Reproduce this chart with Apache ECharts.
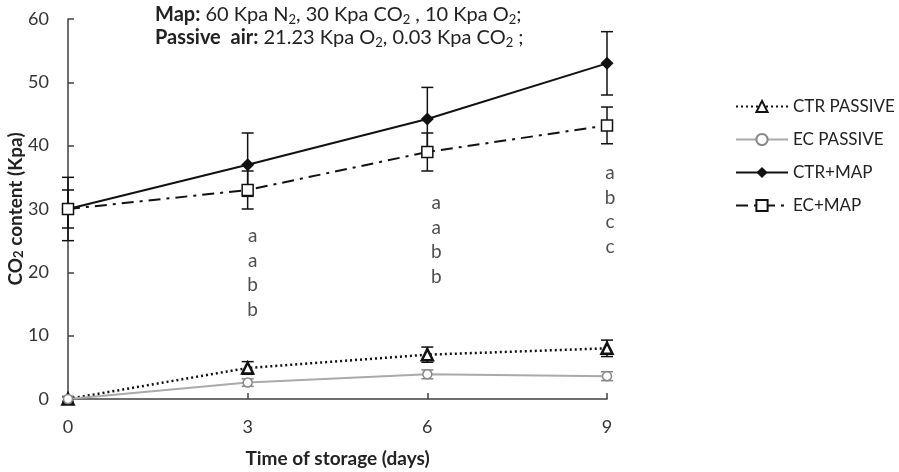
<!DOCTYPE html>
<html>
<head>
<meta charset="utf-8">
<script src="https://cdn.jsdelivr.net/npm/echarts@6/dist/echarts.min.js"></script>
<style>
  html, body { margin: 0; padding: 0; background: #fff; }
  #chart { width: 899px; height: 472px; }
</style>
</head>
<body>
<div id="chart"></div>
<script>
  // days of storage
  const days = [0, 3, 6, 9];

  // CO2 content (Kpa) and error half-widths
  const ctrPassive = [0, 4.9, 7, 8];
  const ctrPassiveErr = [0.4, 1, 1.2, 1.3];
  const ecPassive = [0, 2.6, 3.9, 3.6];
  const ecPassiveErr = [0.3, 0.6, 0.7, 0.7];
  const ctrMap = [30, 37, 44.2, 53];
  const ctrMapErr = [5, 5, 5, 5];
  const ecMap = [30, 33, 39, 43.2];
  const ecMapErr = [3, 3, 3, 2.9];

  // significance letters per day column
  const letterDays = [3, 6, 9];
  const letterCenters = [19.9, 25.1, 29.9];
  const letterTexts = ['a\na\nb\nb', 'a\na\nb\nb', 'a\nb\nc\nc'];

  const font = 'Lato, "Open Sans", sans-serif';
  const axisColor = '#404040';

  const chart = echarts.init(document.getElementById('chart'));

  // error bars drawn as custom series
  function errorSeries(vals, errs, color, width) {
    return {
      type: 'custom',
      z: 1,
      silent: true,
      data: days.map((d, i) => [d, vals[i] - errs[i], vals[i] + errs[i]]),
      renderItem: (params, api) => {
        const lo = api.coord([api.value(0), api.value(1)]);
        const hi = api.coord([api.value(0), api.value(2)]);
        const half = 6;
        const style = { stroke: color, lineWidth: width };
        return {
          type: 'group',
          children: [
            { type: 'line', shape: { x1: lo[0], y1: lo[1], x2: hi[0], y2: hi[1] }, style },
            { type: 'line', shape: { x1: lo[0] - half, y1: lo[1], x2: lo[0] + half, y2: lo[1] }, style },
            { type: 'line', shape: { x1: hi[0] - half, y1: hi[1], x2: hi[0] + half, y2: hi[1] }, style }
          ]
        };
      }
    };
  }

  const pair = arr => days.map((d, i) => [d, arr[i]]);
  const offsets = [[5, 0], [9, 0], [3, 0]];

  const option = {
    animation: false,
    textStyle: { fontFamily: font },
    title: {
      left: 150,
      top: -2,
      text: '{b|Map:} 60 Kpa N{s|2}, 30 Kpa CO{s|2} , 10 Kpa O{s|2};\n{b|Passive  air:} 21.23 Kpa O{s|2}, 0.03 Kpa CO{s|2} ;',
      textStyle: {
        fontFamily: font,
        fontWeight: 'normal',
        fontSize: 20,
        color: '#222',
        lineHeight: 23,
        rich: {
          b: { fontFamily: font, fontWeight: 'bold', fontSize: 20, color: '#222', lineHeight: 23 },
          s: { fontFamily: font, fontSize: 13, color: '#222', lineHeight: 13, verticalAlign: 'bottom' }
        }
      }
    },
    legend: {
      orient: 'vertical',
      left: 730,
      top: 93,
      itemWidth: 52,
      itemHeight: 14,
      itemGap: 16,
      textStyle: { fontFamily: font, fontSize: 17, color: '#222' },
      data: ['CTR PASSIVE', 'EC PASSIVE', 'CTR+MAP', 'EC+MAP']
    },
    grid: { left: 68, right: 292, top: 19, bottom: 73, outerBoundsMode: 'none' },
    xAxis: {
      type: 'value',
      min: 0,
      max: 9,
      interval: 3,
      name: 'Time of storage (days)',
      nameLocation: 'middle',
      nameGap: 50,
      nameTextStyle: { fontFamily: font, fontWeight: 'bold', fontSize: 19, color: '#222' },
      axisLine: { lineStyle: { color: axisColor, width: 1.5 } },
      axisTick: { inside: true, length: 6, lineStyle: { color: axisColor, width: 1.5 } },
      axisLabel: { margin: 19, fontSize: 18, color: '#333' },
      splitLine: { show: false }
    },
    yAxis: {
      type: 'value',
      min: 0,
      max: 60,
      interval: 10,
      name: 'CO{s|2} content (Kpa)',
      nameLocation: 'middle',
      nameRotate: 90,
      nameGap: 43,
      nameMoveOverlap: false,
      nameTextStyle: {
        fontFamily: font, fontWeight: 'bold', fontSize: 19, color: '#222',
        rich: { s: { fontFamily: font, fontWeight: 'bold', fontSize: 13, color: '#222', verticalAlign: 'bottom', lineHeight: 12 } }
      },
      axisLine: { show: true, lineStyle: { color: axisColor, width: 1.5 } },
      axisTick: { show: true, inside: true, length: 6, lineStyle: { color: axisColor, width: 1.5 } },
      axisLabel: { margin: 19, fontSize: 18, color: '#333' },
      splitLine: { show: false }
    },
    series: [
      errorSeries(ctrPassive, ctrPassiveErr, '#111', 1.5),
      errorSeries(ecPassive, ecPassiveErr, '#888', 1.5),
      errorSeries(ctrMap, ctrMapErr, '#111', 1.5),
      errorSeries(ecMap, ecMapErr, '#111', 1.5),
      {
        name: 'CTR PASSIVE',
        type: 'line',
        z: 3,
        data: pair(ctrPassive),
        symbol: 'triangle',
        symbolSize: 11,
        lineStyle: { color: '#111', width: 2.5, type: [2, 3] },
        itemStyle: { color: '#fff', borderColor: '#111', borderWidth: 2.5 }
      },
      {
        name: 'EC PASSIVE',
        type: 'line',
        z: 3,
        data: pair(ecPassive),
        symbol: 'circle',
        symbolSize: 9,
        lineStyle: { color: '#aaa', width: 2 },
        itemStyle: { color: '#fff', borderColor: '#888', borderWidth: 1.5 }
      },
      {
        name: 'CTR+MAP',
        type: 'line',
        z: 3,
        data: pair(ctrMap),
        symbol: 'diamond',
        symbolSize: 13,
        lineStyle: { color: '#111', width: 2 },
        itemStyle: { color: '#111', borderColor: '#111', borderWidth: 0 }
      },
      {
        name: 'EC+MAP',
        type: 'line',
        z: 3,
        data: pair(ecMap),
        symbol: 'rect',
        symbolSize: 11,
        lineStyle: { color: '#111', width: 2, type: [12, 6, 3, 6] },
        itemStyle: { color: '#fff', borderColor: '#111', borderWidth: 1.5 }
      },
      {
        type: 'scatter',
        silent: true,
        symbolSize: 0,
        data: letterDays.map((d, i) => ({
          value: [d, letterCenters[i]],
          label: { offset: offsets[i] }
        })),
        label: {
          show: true,
          position: 'inside',
          fontFamily: font,
          fontSize: 19,
          color: '#222',
          lineHeight: 24.5,
          formatter: p => letterTexts[p.dataIndex]
        }
      }
    ]
  };

  chart.setOption(option);
</script>
</body>
</html>
